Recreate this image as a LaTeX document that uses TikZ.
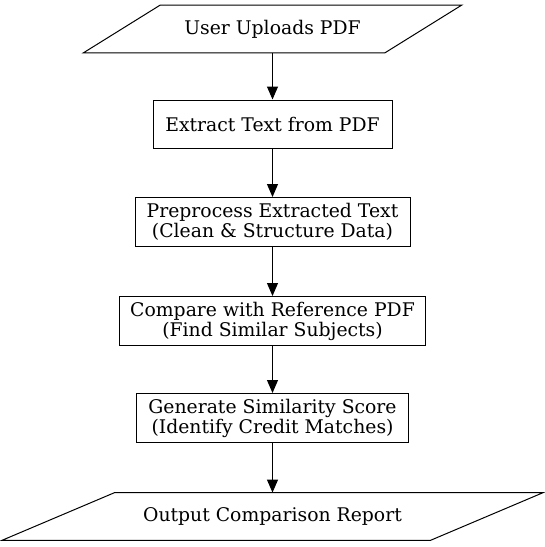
\documentclass[tikz,border=0pt]{standalone}
\usepackage{fontspec}
\setmainfont{DejaVu Serif}
\usetikzlibrary{arrows.meta,calc}
\tikzset{
  every node/.style={font=\fontsize{14.1pt}{15pt}\selectfont, align=center, inner sep=0pt},
  stepbox/.style={draw, line width=0.75pt, minimum height=#1},
  stepbox/.default=36.75pt,
  paranode/.style={minimum height=35.5pt},
  flow/.style={line width=0.75pt, -{Triangle[length=9.75pt,width=8.25pt]}},
  parashape/.style={draw, line width=0.75pt},
}
\begin{document}
\begin{tikzpicture}[x=0.75pt,y=-0.75pt]
\useasboundingbox (0,0) rectangle (544,547);
% top parallelogram
\node[paranode, minimum width=301*0.75pt] (p1) at (272.5,29) {User Uploads PDF};
\draw[parashape] ([xshift=38.5*0.75pt]p1.north west) -- ([xshift=38.5*0.75pt]p1.north east)
  -- ([xshift=-38.5*0.75pt]p1.south east) -- ([xshift=-38.5*0.75pt]p1.south west) -- cycle;
\node[stepbox=36pt, minimum width=239*0.75pt] (b2) at (272.5,124) {Extract Text from PDF};
\node[stepbox, minimum width=275*0.75pt] (b3) at (272.5,222) {Preprocess Extracted Text\\(Clean \& Structure Data)};
\node[stepbox, minimum width=306*0.75pt] (b4) at (272.5,321) {Compare with Reference PDF\\(Find Similar Subjects)};
\node[stepbox, minimum width=272*0.75pt] (b5) at (272.5,418) {Generate Similarity Score\\(Identify Credit Matches)};
\node[paranode, minimum width=428*0.75pt] (p6) at (272.5,516.5) {Output Comparison Report};
\draw[parashape] ([xshift=56.5*0.75pt]p6.north west) -- ([xshift=56.5*0.75pt]p6.north east)
  -- ([xshift=-56.5*0.75pt]p6.south east) -- ([xshift=-56.5*0.75pt]p6.south west) -- cycle;
\draw[flow] (p1) -- (b2);
\draw[flow] (b2) -- (b3);
\draw[flow] (b3) -- (b4);
\draw[flow] (b4) -- (b5);
\draw[flow] (b5) -- (p6);
\end{tikzpicture}
\end{document}
